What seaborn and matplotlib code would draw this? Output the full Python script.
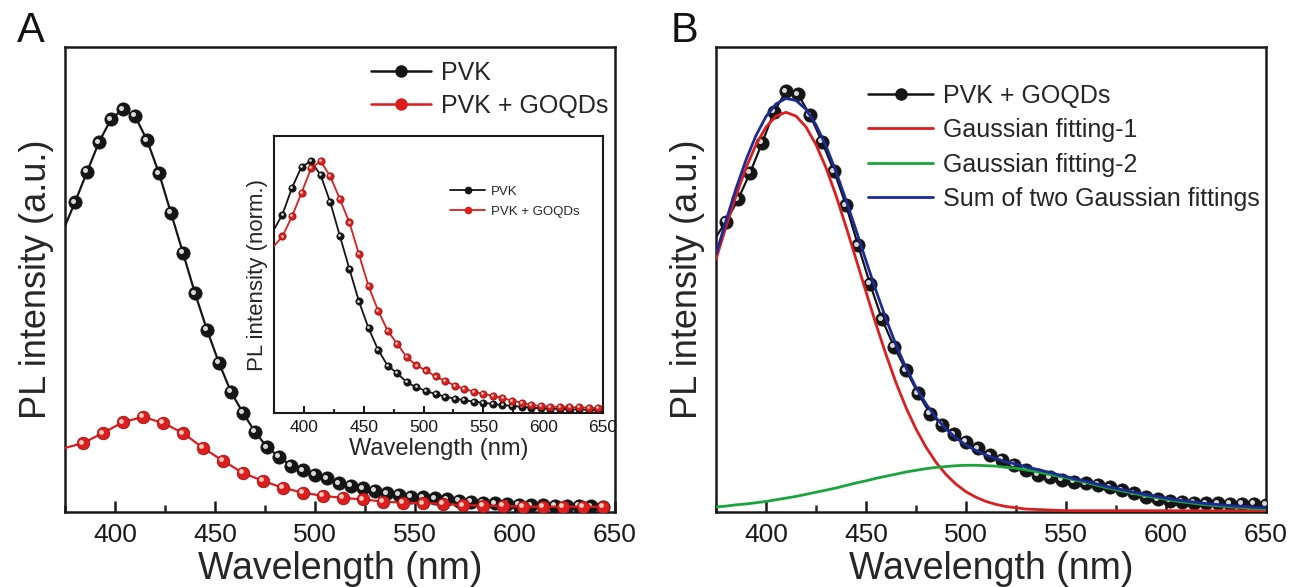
"""
PL spectra of PVK and PVK + GOQDs, with Gaussian deconvolution
"""

import numpy as np
import pandas as pd
import seaborn as sns
import matplotlib.pyplot as plt
import matplotlib.transforms as mtransforms
from matplotlib.lines import Line2D
from matplotlib.ticker import MultipleLocator


sns.set_theme(style="ticks")
plt.rcParams["font.family"] = ["Liberation Sans", "DejaVu Sans"]


# PANEL A - main spectra (a.u., PVK peak = 1)
pvk_wl = list(range(380, 645, 6))
pvk_int = [0.769, 0.844, 0.918, 0.975, 1.000, 0.983, 0.923, 0.841, 0.742, 0.643,
           0.543, 0.452, 0.370, 0.298, 0.246, 0.199, 0.161, 0.137, 0.115, 0.104,
           0.092, 0.084, 0.071, 0.065, 0.059, 0.052, 0.046, 0.042, 0.038, 0.036,
           0.034, 0.031, 0.028, 0.026, 0.023, 0.022, 0.020, 0.018, 0.017, 0.017,
           0.016, 0.015, 0.015, 0.014, 0.013]
pvk_edge = 0.71

goqd_wl = list(range(384, 645, 10))
goqd_int = [0.171, 0.196, 0.223, 0.236, 0.221, 0.196, 0.159, 0.127, 0.097, 0.077,
            0.060, 0.048, 0.040, 0.035, 0.031, 0.026, 0.023, 0.022, 0.020, 0.017,
            0.016, 0.015, 0.013, 0.013, 0.013, 0.013, 0.013]
goqd_edge = 0.159

# PANEL A - inset (normalised)
ins_wl = list(range(382, 647, 8))
ins_pvk = [0.788, 0.894, 0.978, 1.000, 0.944, 0.837, 0.704, 0.572, 0.443, 0.337,
           0.251, 0.188, 0.158, 0.122, 0.102, 0.088, 0.075, 0.065, 0.057, 0.051,
           0.045, 0.041, 0.036, 0.032, 0.028, 0.025, 0.021, 0.019, 0.017, 0.016,
           0.015, 0.014, 0.013, 0.012]
ins_goqd = [0.701, 0.781, 0.874, 0.972, 1.000, 0.940, 0.850, 0.757, 0.630, 0.504,
            0.407, 0.327, 0.274, 0.222, 0.189, 0.169, 0.145, 0.128, 0.109, 0.096,
            0.085, 0.075, 0.069, 0.059, 0.049, 0.041, 0.031, 0.028, 0.025, 0.025,
            0.023, 0.023, 0.021, 0.019]
ins_pvk_edge = 0.729
ins_goqd_edge = 0.663

# PANEL B - PVK + GOQDs and Gaussian fits
b_wl = list(range(380, 651, 6))
b_int = [0.690, 0.743, 0.806, 0.877, 0.951, 1.000, 0.993, 0.943, 0.880, 0.810,
         0.729, 0.634, 0.542, 0.458, 0.393, 0.337, 0.282, 0.234, 0.207, 0.185,
         0.167, 0.151, 0.135, 0.124, 0.112, 0.100, 0.088, 0.082, 0.076, 0.072,
         0.068, 0.064, 0.059, 0.052, 0.044, 0.036, 0.030, 0.027, 0.024, 0.022,
         0.021, 0.021, 0.019, 0.019, 0.019, 0.017]
b_edge = 0.654

fit_wl = list(range(375, 651, 5))
fit_1 = [0.601, 0.678, 0.752, 0.818, 0.873, 0.915, 0.941, 0.950, 0.941, 0.915,
         0.873, 0.818, 0.752, 0.678, 0.601, 0.523, 0.446, 0.374, 0.307, 0.248,
         0.197, 0.154, 0.118, 0.089, 0.066, 0.048, 0.035, 0.025, 0.018, 0.013,
         0.010, 0.007, 0.006, 0.005, 0.004, 0.003, 0.003, 0.003, 0.003, 0.003,
         0.003, 0.003, 0.003, 0.003, 0.003, 0.003, 0.003, 0.003, 0.003, 0.003,
         0.003, 0.003, 0.003, 0.003, 0.003, 0.003]
fit_2 = [0.012, 0.014, 0.017, 0.019, 0.022, 0.025, 0.029, 0.033, 0.037, 0.042,
         0.047, 0.052, 0.057, 0.063, 0.069, 0.074, 0.080, 0.085, 0.090, 0.095,
         0.099, 0.103, 0.106, 0.108, 0.110, 0.111, 0.111, 0.110, 0.109, 0.106,
         0.104, 0.100, 0.096, 0.091, 0.086, 0.081, 0.075, 0.070, 0.064, 0.058,
         0.053, 0.048, 0.043, 0.038, 0.034, 0.030, 0.026, 0.023, 0.020, 0.017,
         0.015, 0.013, 0.011, 0.010, 0.008, 0.007]
fit_sum = [0.613, 0.692, 0.769, 0.837, 0.895, 0.940, 0.970, 0.983, 0.978, 0.957,
           0.920, 0.870, 0.809, 0.741, 0.670, 0.597, 0.526, 0.459, 0.397, 0.343,
           0.296, 0.257, 0.224, 0.197, 0.176, 0.159, 0.146, 0.135, 0.127, 0.119,
           0.114, 0.107, 0.102, 0.096, 0.090, 0.084, 0.078, 0.073, 0.067, 0.061,
           0.056, 0.051, 0.046, 0.041, 0.037, 0.033, 0.029, 0.026, 0.023, 0.020,
           0.018, 0.016, 0.014, 0.013, 0.011, 0.010]

X_MIN = 375

BLACK = "#151515"
RED = "#dc1e1e"
GREEN = "#1aa43c"
BLUE = "#1c2a96"


def ball_series(ax, wl, vals, edge, color, highlight, ms, lw, z):
    # smooth line from the left edge, then shaded balls on data points
    line_df = pd.DataFrame({"wl": [X_MIN] + list(wl), "val": [edge] + list(vals)})
    sns.lineplot(data=line_df, x="wl", y="val", ax=ax, color=color, lw=lw,
                 sort=False, estimator=None, zorder=z)
    ax.plot(wl, vals, ls="none", marker="o", ms=ms, mfc=color,
            mec=BLACK if color == BLACK else "#a01010", mew=0.6, zorder=z + 0.1)
    shift = mtransforms.offset_copy(ax.transData, fig=ax.figure,
                                    x=-ms * 0.12, y=ms * 0.12, units="points")
    ax.plot(wl, vals, ls="none", marker="o", ms=ms * 0.38, mfc=highlight, mec="none",
            transform=shift, zorder=z + 0.2)


def style_axis(ax, labelsize, major_len, minor_len, width):
    ax.set_xlim(375, 650)
    ax.set_yticks([])
    ax.xaxis.set_major_locator(MultipleLocator(50))
    ax.xaxis.set_minor_locator(MultipleLocator(25))
    ax.tick_params(axis="x", which="major", direction="in", length=major_len, width=width,
                   labelsize=labelsize, pad=8, colors="#1a1a1a")
    ax.tick_params(axis="x", which="minor", direction="in", length=minor_len, width=width)
    for s in ax.spines.values():
        s.set_linewidth(width)
        s.set_color("#1a1a1a")


def ball_handle(color, ms, lw):
    return Line2D([0], [0], color=color, lw=lw, marker="o", ms=ms, mfc=color, mec=color)


fig = plt.figure(figsize=(12.92, 5.87), dpi=100)
fig.patch.set_facecolor("white")

# PANEL A
ax_a = fig.add_axes([0.0503, 0.1278, 0.4257, 0.792])
ball_series(ax_a, pvk_wl, pvk_int, pvk_edge, BLACK, "#d8d8d8", 9.5, 1.6, 3)
ball_series(ax_a, goqd_wl, goqd_int, goqd_edge, RED, "#ffd0c0", 9.0, 1.6, 4)
ax_a.set_ylim(0, 1.154)
style_axis(ax_a, 19, 8, 5, 1.8)
ax_a.set_xlabel("Wavelength (nm)", fontsize=27, labelpad=3)
ax_a.set_ylabel("PL intensity (a.u.)", fontsize=26, labelpad=8)
ax_a.legend(handles=[ball_handle(BLACK, 8, 1.8), ball_handle(RED, 8, 1.8)],
            labels=["PVK", "PVK + GOQDs"], loc="upper left", bbox_to_anchor=(0.515, 1.018),
            frameon=False, fontsize=18, handlelength=2.4, handletextpad=0.4,
            labelspacing=0.35)

# inset
ax_in = fig.add_axes([0.2121, 0.2964, 0.2546, 0.4719])
ball_series(ax_in, ins_wl, ins_pvk, ins_pvk_edge, BLACK, "#d8d8d8", 5.2, 1.3, 3)
ball_series(ax_in, ins_wl, ins_goqd, ins_goqd_edge, RED, "#ffd0c0", 5.2, 1.3, 4)
ax_in.set_ylim(0, 1.10)
style_axis(ax_in, 12.5, 5, 3, 1.5)
ax_in.tick_params(axis="x", which="major", pad=5)
ax_in.set_xlabel("Wavelength (nm)", fontsize=17, labelpad=2)
ax_in.set_ylabel("PL intensity (norm.)", fontsize=16, labelpad=4)
ax_in.legend(handles=[ball_handle(BLACK, 4.5, 1.3), ball_handle(RED, 4.5, 1.3)],
             labels=["PVK", "PVK + GOQDs"], loc="upper left", bbox_to_anchor=(0.50, 0.865),
             frameon=False, fontsize=9.5, handlelength=2.6, handletextpad=0.5,
             labelspacing=0.6)

# PANEL B
ax_b = fig.add_axes([0.5542, 0.1278, 0.4257, 0.792])
fit_df = pd.DataFrame({"wl": fit_wl, "Gaussian fitting-1": fit_1,
                       "Gaussian fitting-2": fit_2,
                       "Sum of two Gaussian fittings": fit_sum})
ball_series(ax_b, b_wl, b_int, b_edge, BLACK, "#d8d8d8", 9.5, 1.6, 3)
for col, color in [("Gaussian fitting-1", RED), ("Gaussian fitting-2", GREEN),
                   ("Sum of two Gaussian fittings", BLUE)]:
    sns.lineplot(data=fit_df, x="wl", y=col, ax=ax_b, color=color, lw=2.0,
                 estimator=None, zorder=5)
ax_b.set_ylim(0, 1.105)
style_axis(ax_b, 19, 8, 5, 1.8)
ax_b.set_xlabel("Wavelength (nm)", fontsize=27, labelpad=3)
ax_b.set_ylabel("PL intensity (a.u.)", fontsize=26, labelpad=8)
b_handles = [ball_handle(BLACK, 8, 1.8),
             Line2D([0], [0], color=RED, lw=2.0),
             Line2D([0], [0], color=GREEN, lw=2.0),
             Line2D([0], [0], color=BLUE, lw=2.0)]
ax_b.legend(handles=b_handles,
            labels=["PVK + GOQDs", "Gaussian fitting-1", "Gaussian fitting-2",
                    "Sum of two Gaussian fittings"],
            loc="upper left", bbox_to_anchor=(0.236, 0.97), frameon=False,
            fontsize=18, handlelength=2.6, handletextpad=0.4, labelspacing=0.42)

fig.text(0.013, 0.913, "A", fontsize=30, color="#111111", va="bottom")
fig.text(0.519, 0.913, "B", fontsize=30, color="#111111", va="bottom")

fig.savefig("out.png", dpi=100, facecolor="white")
